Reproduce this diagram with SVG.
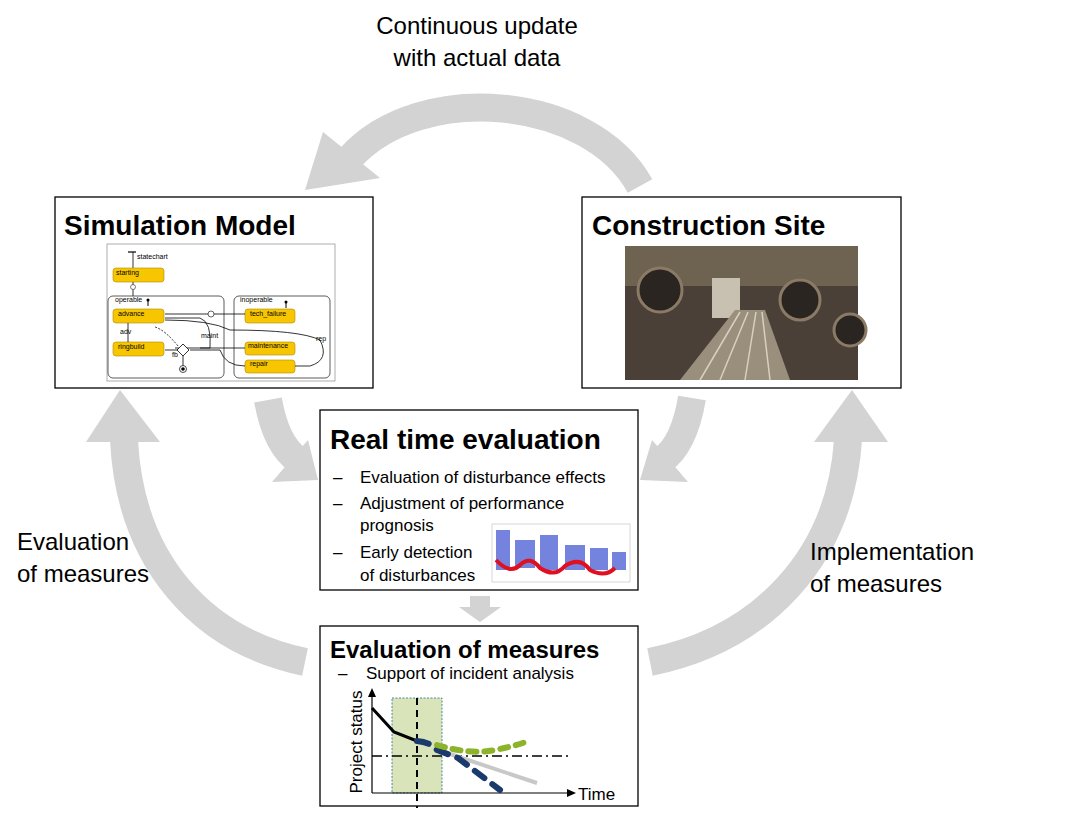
<svg xmlns="http://www.w3.org/2000/svg" width="1070" height="814" viewBox="0 0 1070 814">
<style>
text{font-family:"Liberation Sans",Arial,sans-serif;fill:#000}
.big{font-size:24px}
.title{font-size:28px;font-weight:bold}
.bul{font-size:17px}
.box{fill:#fff;stroke:#000;stroke-width:1.3}
.arc{fill:none;stroke:#d3d3d3;stroke-width:28}
.head{fill:#d3d3d3}
.st{fill:#f7c600;stroke:#b08a00;stroke-width:0.6}
.fr{fill:none;stroke:#333;stroke-width:0.8}
.sl{font-size:7px}
.ln{fill:none;stroke:#000;stroke-width:1.2}
</style>
<rect width="1070" height="814" fill="#fff"/>
<g id="connectors">
<path class="arc" d="M640 186 C590 95 420 80 350 158"/>
<polygon class="head" points="305,190 323,132 380,178"/>
<path class="arc" d="M305 662 C200 640 130 560 124 440"/>
<polygon class="head" points="120,390 86,442 160,442"/>
<path class="arc" d="M650 662 C760 640 840 560 848 440"/>
<polygon class="head" points="852,390 814,442 888,442"/>
<path class="arc" d="M268 400 Q276 445 298 460"/>
<polygon class="head" points="318,480 272,482 308,440"/>
<path class="arc" d="M692 398 Q684 445 662 460"/>
<polygon class="head" points="640,480 688,482 652,440"/>
<rect x="470" y="596" width="20" height="12" fill="#d3d3d3"/>
<polygon class="head" points="459,607 501,607 480,622"/>
</g>
<g id="labels">
<text class="big" x="477" y="34" text-anchor="middle">Continuous update</text>
<text class="big" x="477" y="66" text-anchor="middle">with actual data</text>
<text class="big" x="17" y="550">Evaluation</text>
<text class="big" x="17" y="582">of measures</text>
<text class="big" x="810" y="560">Implementation</text>
<text class="big" x="810" y="592">of measures</text>
</g>
<g id="simulation-model">
<rect class="box" x="55" y="197" width="318" height="191"/>
<text class="title" x="64" y="235">Simulation Model</text>
<rect x="107" y="244" width="228" height="137" fill="#fff" stroke="#999" stroke-width="0.8"/>
<line x1="128" y1="252" x2="136" y2="252" stroke="#000" stroke-width="1.2"/>
<line x1="133" y1="252" x2="133" y2="268" stroke="#000" stroke-width="0.8"/>
<text class="sl" x="137" y="259">statechart</text>
<rect class="st" x="113" y="268" width="51" height="14" rx="3"/><text class="sl" x="116" y="275">starting</text>
<line x1="133" y1="282" x2="133" y2="296" stroke="#000" stroke-width="0.8"/>
<circle cx="133" cy="287" r="2.5" fill="#fff" stroke="#000" stroke-width="0.5"/>
<rect class="fr" x="108" y="296" width="116" height="82" rx="5"/>
<text class="sl" x="115" y="302">operable</text>
<rect class="fr" x="234" y="296" width="96" height="82" rx="5"/>
<text class="sl" x="240" y="302">inoperable</text>
<rect class="st" x="113" y="309" width="51" height="14" rx="3"/><text class="sl" x="118" y="316">advance</text>
<rect class="st" x="113" y="342" width="51" height="14" rx="3"/><text class="sl" x="118" y="349">ringbuild</text>
<rect class="st" x="245" y="309" width="50" height="14" rx="3"/><text class="sl" x="250" y="316">tech_failure</text>
<rect class="st" x="245" y="342" width="50" height="13" rx="3"/><text class="sl" x="248" y="348">maintenance</text>
<rect class="st" x="245" y="360" width="50" height="13" rx="3"/><text class="sl" x="250" y="366">repair</text>
<g fill="none" stroke="#000" stroke-width="0.8">
<path d="M128 323 V342"/><path d="M245 314 H165"/><path d="M245 348 H200 L175 348 M200 348 H210 Q212 322 200 318 H165"/>
<path d="M295 366 H310 Q330 360 320 340 Q300 330 230 330 Q210 320 165 320"/>
<path d="M165 350 H178 M190 350 H220 Q225 366 245 366"/>
<path d="M178 346 Q165 330 155 327" stroke-dasharray="2,1.5"/>
<path d="M183 356 V366"/>
</g>
<polygon points="183,344 189,350 183,356 177,350" fill="#fff" stroke="#000" stroke-width="0.8"/>
<circle cx="183" cy="369" r="3.5" fill="#fff" stroke="#000" stroke-width="0.7"/><circle cx="183" cy="369" r="1.8"/>
<circle cx="211" cy="314" r="3" fill="#fff" stroke="#000" stroke-width="0.6"/>
<text class="sl" x="120" y="334" font-size="6">adv</text><text class="sl" x="201" y="338">maint</text><text class="sl" x="316" y="341">rep</text><text class="sl" x="172" y="357">fb</text>
<line x1="148" y1="300" x2="148" y2="306" stroke="#000"/><circle cx="148" cy="300" r="1.5"/>
<line x1="286" y1="302" x2="286" y2="308" stroke="#000"/><circle cx="286" cy="302" r="1.5"/>
</g>
<g id="construction-site">
<rect class="box" x="582" y="197" width="319" height="191"/>
<text class="title" x="592" y="235">Construction Site</text>
<rect x="625" y="246" width="233" height="134" fill="#4a4038"/>
<rect x="625" y="246" width="233" height="40" fill="#6e6250"/>
<circle cx="660" cy="290" r="22" fill="#2a2520" stroke="#8a7a66" stroke-width="3"/>
<circle cx="800" cy="300" r="20" fill="#2a2520" stroke="#8a7a66" stroke-width="3"/>
<circle cx="850" cy="330" r="16" fill="#2a2520" stroke="#8a7a66" stroke-width="3"/>
<rect x="712" y="278" width="28" height="40" fill="#c8c0b0"/>
<polygon points="680,380 735,310 765,310 790,380" fill="#9a8e7c"/>
<g stroke="#d8d0c0" stroke-width="1.5"><line x1="700" y1="380" x2="740" y2="312"/><line x1="720" y1="380" x2="748" y2="312"/><line x1="745" y1="380" x2="756" y2="312"/><line x1="770" y1="380" x2="762" y2="312"/></g>
</g>
<g id="real-time-evaluation">
<rect class="box" x="320" y="410" width="318" height="180"/>
<text class="title" x="330" y="449">Real time evaluation</text>
<text class="bul" x="333" y="483">–</text><text class="bul" x="360" y="483">Evaluation of disturbance effects</text>
<text class="bul" x="333" y="509">–</text><text class="bul" x="360" y="509">Adjustment of performance</text>
<text class="bul" x="360" y="531">prognosis</text>
<text class="bul" x="333" y="558">–</text><text class="bul" x="360" y="558">Early detection</text>
<text class="bul" x="360" y="581">of disturbances</text>
<rect x="492" y="524" width="138" height="58" fill="#fff" stroke="#bbb" stroke-width="0.6"/>
<g fill="#3a4fd0" opacity="0.7">
<rect x="496" y="530" width="14" height="40"/><rect x="515" y="540" width="20" height="28"/><rect x="540" y="535" width="18" height="35"/><rect x="565" y="545" width="20" height="25"/><rect x="590" y="548" width="18" height="22"/><rect x="612" y="552" width="14" height="18"/>
</g>
<path d="M496 560 Q510 575 520 565 Q530 555 540 568 Q555 578 565 566 Q580 556 590 570 Q605 578 615 568" fill="none" stroke="#e01020" stroke-width="4"/>
</g>
<g id="evaluation-of-measures">
<rect class="box" x="320" y="626" width="318" height="180"/>
<text x="330" y="658" font-size="24" font-weight="bold">Evaluation of measures</text>
<text class="bul" x="338" y="679" fill="#666">–</text><text class="bul" x="366" y="679">Support of incident analysis</text>
<rect x="392" y="698" width="50" height="95" fill="#d9e4bb" stroke="#2a6a8a" stroke-width="0.8" stroke-dasharray="2,1.5"/>
<path class="ln" d="M372 793 V694"/><polygon points="372,688 368,697 376,697"/>
<path class="ln" d="M372 793 H569"/><polygon points="576,793 567,789 567,797"/>
<text x="578" y="800" font-size="17">Time</text>
<text x="362" y="742" font-size="17" text-anchor="middle" transform="rotate(-90 362 742)">Project status</text>
<line x1="417" y1="698" x2="417" y2="808" stroke="#000" stroke-width="2" stroke-dasharray="7,5"/>
<line x1="372" y1="756" x2="570" y2="756" stroke="#000" stroke-width="1.5" stroke-dasharray="10,4,2,4"/>
<path d="M372 708 L394 732 L417 741" fill="none" stroke="#000" stroke-width="3"/>
<line x1="438" y1="750" x2="537" y2="783" stroke="#c8c8c8" stroke-width="4"/>
<path d="M417 741 Q430 742 437 750 L458 758 L500 790" fill="none" stroke="#1a3a6e" stroke-width="6" stroke-linecap="round" stroke-dasharray="12,10"/>
<path d="M437 745 Q470 755 495 750 T530 740" fill="none" stroke="#8db32a" stroke-width="6" stroke-linecap="round" stroke-dasharray="8,8"/>
</g>
</svg>
